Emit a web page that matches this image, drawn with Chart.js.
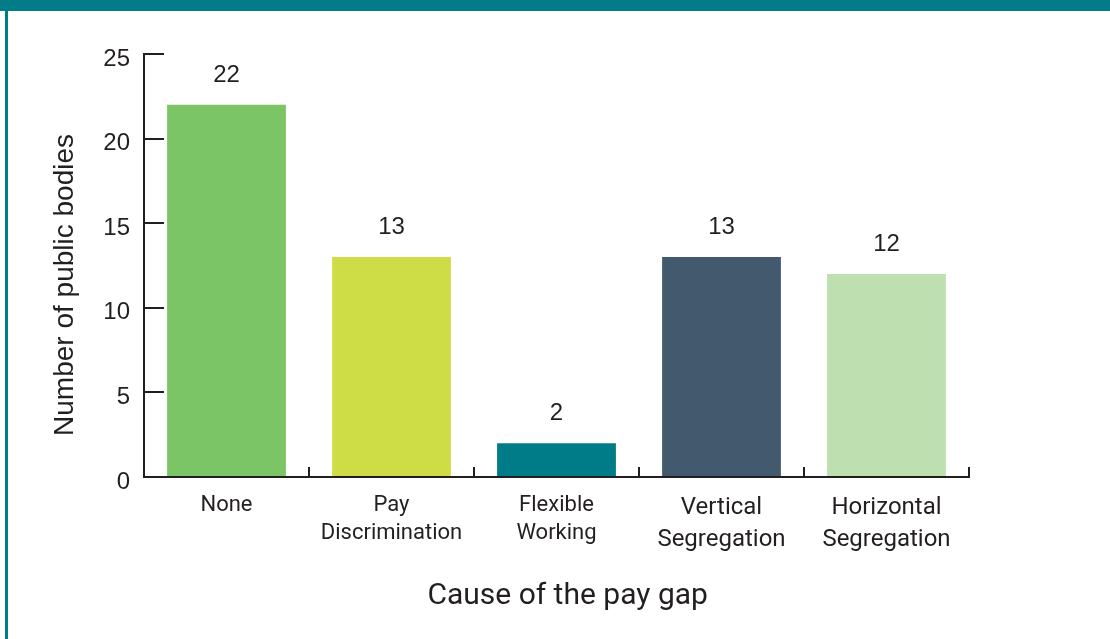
<!DOCTYPE html>
<html>
<head>
<meta charset="utf-8">
<script src="https://cdn.jsdelivr.net/npm/chart.js@4"></script>
<style>
  html, body { margin: 0; padding: 0; background: #ffffff; }
  #wrap { position: relative; width: 1110px; height: 639px; overflow: hidden; }
  #topbar { position: absolute; left: 0; top: 0; width: 1110px; height: 11px; background: #037B89; }
  #leftbar { position: absolute; left: 5px; top: 0; width: 3px; height: 639px; background: #037B89; }
  canvas { position: absolute; left: 0; top: 0; }
</style>
</head>
<body>
<div id="wrap">
  <div id="topbar"></div>
  <div id="leftbar"></div>
  <canvas id="c" width="1110" height="639"></canvas>
</div>
<script>
const categories = [
  ['None'],
  ['Pay', 'Discrimination'],
  ['Flexible', 'Working'],
  ['Vertical', 'Segregation'],
  ['Horizontal', 'Segregation']
];
const values = [22, 13, 2, 13, 12];
const barColors = ['#7CC566', '#CEDD45', '#007B88', '#43596D', '#BEDFAF'];
const labelSizes = [22, 22, 22, 24, 24];
const yTicks = [0, 5, 10, 15, 20, 25];
const xTitle = 'Cause of the pay gap';
const yTitle = 'Number of public bodies';

const ink = '#231F20';

const valueLabels = {
  id: 'valueLabels',
  afterDatasetsDraw(chart) {
    const ctx = chart.ctx;
    const meta = chart.getDatasetMeta(0);
    ctx.save();
    ctx.font = '24px "Liberation Sans", Arial, sans-serif';
    ctx.fillStyle = ink;
    ctx.textAlign = 'center';
    ctx.textBaseline = 'alphabetic';
    meta.data.forEach((bar, i) => {
      ctx.fillText(String(values[i]), bar.x, bar.y - 23);
    });
    ctx.restore();
  }
};

new Chart(document.getElementById('c'), {
  type: 'bar',
  data: {
    labels: categories,
    datasets: [{
      data: values,
      backgroundColor: barColors,
      borderWidth: 0,
      categoryPercentage: 1,
      barPercentage: 0.72
    }]
  },
  options: {
    responsive: false,
    animation: false,
    devicePixelRatio: 1,
    layout: { padding: { top: 54, right: 141, bottom: 25, left: 0 } },
    plugins: {
      legend: { display: false },
      tooltip: { enabled: false }
    },
    scales: {
      x: {
        offset: true,
        border: { display: true, color: ink, width: 2 },
        grid: {
          offset: true,
          drawOnChartArea: false,
          drawTicks: true,
          tickLength: -10,
          color: ink,
          lineWidth: 2
        },
        ticks: {
          padding: 25,
          color: ink,
          maxRotation: 0,
          autoSkip: false,
          font: (ctx) => {
            const s = labelSizes[ctx.index] || 22;
            return { family: 'Roboto, "Liberation Sans", sans-serif', size: s, lineHeight: s === 24 ? 1.33 : 1.27 };
          }
        },
        title: {
          display: true,
          text: '\u00A0\u00A0\u00A0' + xTitle,
          color: ink,
          padding: { top: 0, bottom: 0 },
          font: { family: 'Roboto, "Liberation Sans", sans-serif', size: 30, lineHeight: 1.2 }
        },
        afterFit(scale) { scale.height = 137; }
      },
      y: {
        min: 0,
        max: 25,
        afterBuildTicks(scale) { scale.ticks = yTicks.map(v => ({ value: v })); },
        border: { display: true, color: ink, width: 2 },
        grid: {
          drawOnChartArea: false,
          drawTicks: true,
          tickLength: -20,
          color: ink,
          lineWidth: 2
        },
        ticks: {
          padding: 34,
          labelOffset: 5,
          color: ink,
          font: { family: '"Liberation Sans", Arial, sans-serif', size: 24 }
        },
        title: {
          display: true,
          text: yTitle + '\u00A0\u00A0\u00A0\u00A0\u00A0',
          color: ink,
          padding: { top: 48, bottom: 0 },
          font: { family: '"Liberation Sans", Arial, sans-serif', size: 28, lineHeight: 1.2 }
        },
        afterFit(scale) { scale.width = 144; }
      }
    }
  },
  plugins: [valueLabels]
});
</script>
</body>
</html>
